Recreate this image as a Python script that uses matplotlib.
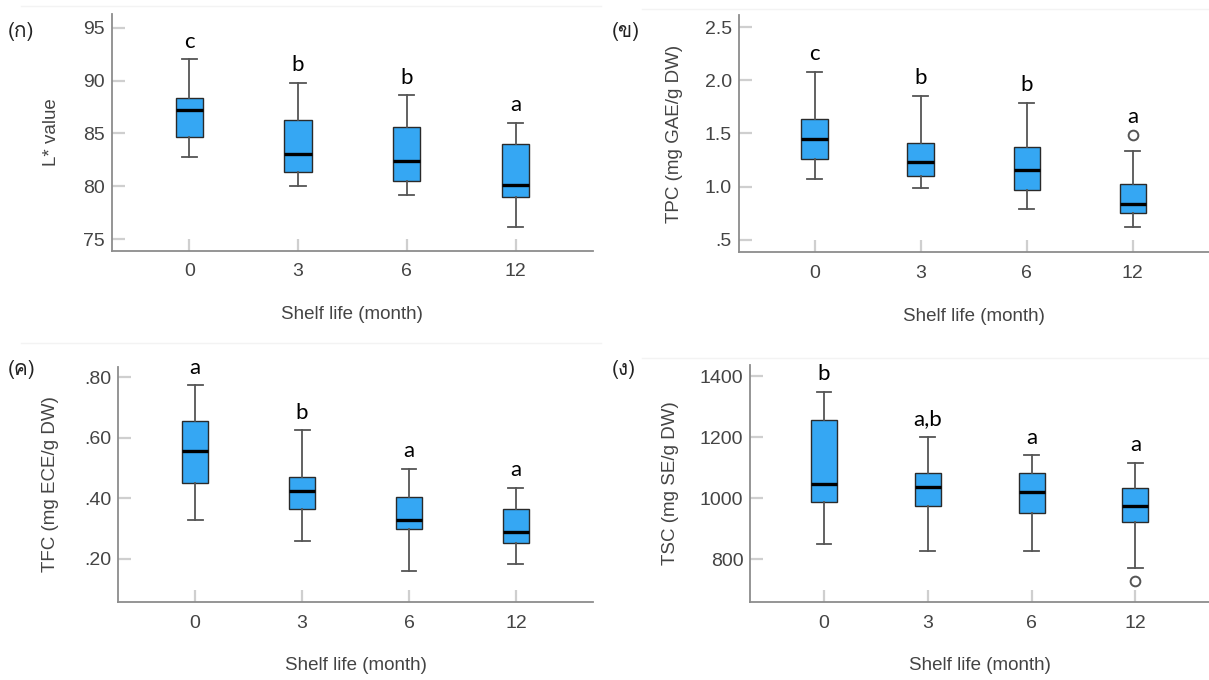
import matplotlib
matplotlib.use('Agg')
import matplotlib.pyplot as plt
from matplotlib import font_manager
from matplotlib.ft2font import FT2Font
from matplotlib.lines import Line2D

# ---- data ----
months = ['0', '3', '6', '12']

# (ก) L* value
L_lo = [82.8, 80.0, 79.2, 76.2]
L_q1 = [84.7, 81.4, 80.5, 79.0]
L_med = [87.2, 83.1, 82.4, 80.1]
L_q3 = [88.4, 86.3, 85.6, 84.0]
L_hi = [92.0, 89.8, 88.6, 86.0]
L_out = [[], [], [], []]
L_sig = ['c', 'b', 'b', 'a']
L_ticks = [75, 80, 85, 90, 95]
L_ticklabels = ['75', '80', '85', '90', '95']

# (ข) TPC
TPC_lo = [1.07, 0.99, 0.79, 0.625]
TPC_q1 = [1.26, 1.10, 0.97, 0.75]
TPC_med = [1.45, 1.23, 1.16, 0.84]
TPC_q3 = [1.64, 1.41, 1.37, 1.025]
TPC_hi = [2.08, 1.85, 1.79, 1.335]
TPC_out = [[], [], [], [1.49]]
TPC_sig = ['c', 'b', 'b', 'a']
TPC_ticks = [0.5, 1.0, 1.5, 2.0, 2.5]
TPC_ticklabels = ['.5', '1.0', '1.5', '2.0', '2.5']

# (ค) TFC
TFC_lo = [0.329, 0.258, 0.162, 0.183]
TFC_q1 = [0.450, 0.365, 0.298, 0.254]
TFC_med = [0.558, 0.426, 0.328, 0.290]
TFC_q3 = [0.657, 0.471, 0.406, 0.365]
TFC_hi = [0.774, 0.625, 0.497, 0.436]
TFC_out = [[], [], [], []]
TFC_sig = ['a', 'b', 'a', 'a']
TFC_ticks = [0.2, 0.4, 0.6, 0.8]
TFC_ticklabels = ['.20', '.40', '.60', '.80']

# (ง) TSC
TSC_lo = [850, 827, 828, 770]
TSC_q1 = [987, 975, 952, 923]
TSC_med = [1046, 1036, 1021, 973]
TSC_q3 = [1256, 1081, 1082, 1034]
TSC_hi = [1348, 1200, 1140, 1115]
TSC_out = [[], [], [], [729]]
TSC_sig = ['b', 'a,b', 'a', 'a']
TSC_ticks = [800, 1000, 1200, 1400]
TSC_ticklabels = ['800', '1000', '1200', '1400']


def find_thai_font():
    # first installed font that has a Thai glyph
    for f in font_manager.fontManager.ttflist:
        try:
            if FT2Font(f.fname).get_char_index(0x0E01):
                return f.name
        except Exception:
            pass
    return 'DejaVu Sans'


thai_font = find_thai_font()
plt.rcParams['font.family'] = ['Liberation Sans', 'DejaVu Sans']

BLUE = '#35a7f3'
GREY_TXT = '#444444'


def draw_panel(ax, lo, q1, med, q3, hi, out, sig, ticks, ticklabels,
               ylim, xlim, ylabel, ylab_x):
    stats = []
    for i in range(len(months)):
        stats.append(dict(whislo=lo[i], q1=q1[i], med=med[i], q3=q3[i],
                          whishi=hi[i], fliers=out[i], label=months[i]))
    pos = list(range(1, len(months) + 1))
    ax.bxp(stats, positions=pos, widths=0.25, capwidths=0.14,
           patch_artist=True,
           boxprops=dict(facecolor=BLUE, edgecolor='#2a2a2a', linewidth=1.0),
           medianprops=dict(color='black', linewidth=2.4),
           whiskerprops=dict(color='#555555', linewidth=1.3),
           capprops=dict(color='#555555', linewidth=1.3),
           flierprops=dict(marker='o', markerfacecolor='white',
                           markeredgecolor='#555555', markersize=7,
                           markeredgewidth=1.4))
    ax.set_ylim(*ylim)
    ax.set_xlim(*xlim)
    ax.set_yticks(ticks)
    ax.set_yticklabels(ticklabels)
    ax.set_xticks(pos)
    ax.set_xticklabels(months)
    ax.tick_params(direction='in', length=9, width=1.6, color='#cfcfcf',
                   labelsize=14, labelcolor=GREY_TXT)
    ax.tick_params(axis='y', pad=5)
    ax.tick_params(axis='x', pad=9)
    for s in ['top', 'right']:
        ax.spines[s].set_visible(False)
    for s in ['left', 'bottom']:
        ax.spines[s].set_color('#8c8c8c')
        ax.spines[s].set_linewidth(1.3)
    ax.set_facecolor('white')

    # significance letters above each box
    rng = ylim[1] - ylim[0]
    for i in range(len(months)):
        top = max([hi[i]] + list(out[i]))
        ax.text(pos[i], top + 0.075 * rng, sig[i], ha='center', va='center',
                fontsize=16, family=['Lato', 'DejaVu Sans'], color='black')

    ax.text(ylab_x, 0.5, ylabel, rotation=90, ha='center', va='center',
            transform=ax.transAxes, fontsize=13.5, color=GREY_TXT)
    ax.text(0.5, -0.27, 'Shelf life (month)', ha='center', va='center',
            transform=ax.transAxes, fontsize=13.5, color=GREY_TXT)


plt.close('all')
fig = plt.figure(figsize=(12.09, 6.80), dpi=100)

ax1 = fig.add_axes([0.0926, 0.631, 0.3978, 0.3485])
ax2 = fig.add_axes([0.611, 0.629, 0.3888, 0.3485])
ax3 = fig.add_axes([0.0976, 0.1147, 0.3929, 0.3456])
ax4 = fig.add_axes([0.6206, 0.1147, 0.3794, 0.3485])

draw_panel(ax1, L_lo, L_q1, L_med, L_q3, L_hi, L_out, L_sig,
           L_ticks, L_ticklabels, (73.9, 96.3), (0.29, 4.71),
           'L* value', -0.125)
draw_panel(ax2, TPC_lo, TPC_q1, TPC_med, TPC_q3, TPC_hi, TPC_out, TPC_sig,
           TPC_ticks, TPC_ticklabels, (0.384, 2.61), (0.284, 4.716),
           'TPC (mg GAE/g DW)', -0.137)
draw_panel(ax3, TFC_lo, TFC_q1, TFC_med, TFC_q3, TFC_hi, TFC_out, TFC_sig,
           TFC_ticks, TFC_ticklabels, (0.058, 0.834), (0.28, 4.72),
           'TFC (mg ECE/g DW)', -0.143)
draw_panel(ax4, TSC_lo, TSC_q1, TSC_med, TSC_q3, TSC_hi, TSC_out, TSC_sig,
           TSC_ticks, TSC_ticklabels, (660, 1436), (0.29, 4.71),
           'TSC (mg SE/g DW)', -0.174)

# panel tags
tags = ['(ก)', '(ข)', '(ค)', '(ง)']
tag_xy = [(0.006, 0.954), (0.506, 0.954), (0.006, 0.456), (0.506, 0.456)]
for t, (x, y) in zip(tags, tag_xy):
    fig.text(x, y, t, fontsize=15, family=[thai_font, 'DejaVu Sans'],
             ha='left', va='center', color='#222222')

# faint frame lines at the top of each chart image
fig.add_artist(Line2D([0.017, 0.497], [0.991, 0.991], color='#f3f3f3', lw=1))
fig.add_artist(Line2D([0.531, 1.0], [0.987, 0.987], color='#f3f3f3', lw=1))
fig.add_artist(Line2D([0.017, 0.497], [0.495, 0.495], color='#f3f3f3', lw=1))
fig.add_artist(Line2D([0.531, 1.0], [0.473, 0.473], color='#f3f3f3', lw=1))

fig.savefig('out.png', dpi=100, facecolor='white')
